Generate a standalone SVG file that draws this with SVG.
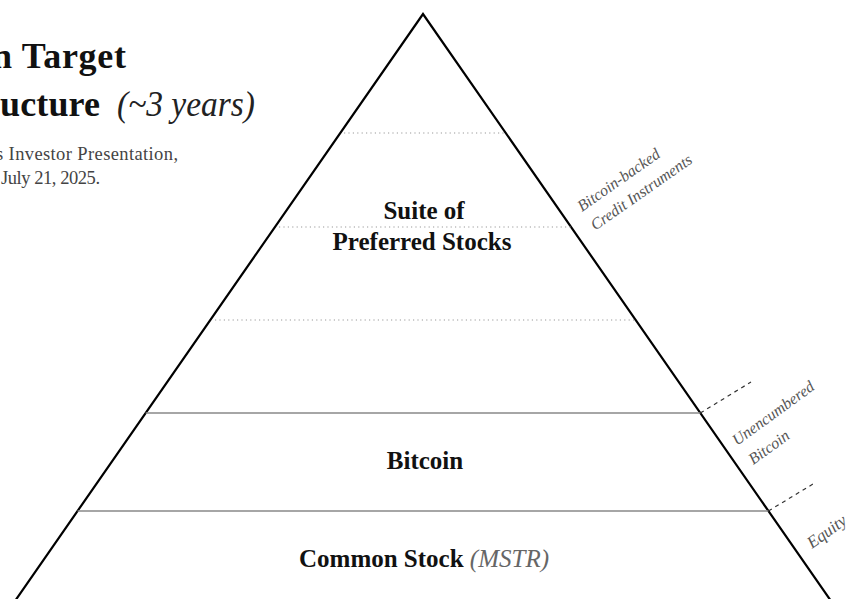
<svg xmlns="http://www.w3.org/2000/svg" width="853" height="599" viewBox="0 0 853 599">
  <style>
    text { font-family: "Liberation Serif", "Times New Roman", serif; }
    .title { font-size: 36px; font-weight: bold; fill: #111; }
    .title-it { font-size: 35px; font-style: italic; font-weight: normal; fill: #222; }
    .sub { font-size: 18.5px; fill: #444; }
    .tier { font-size: 25px; font-weight: bold; fill: #111; text-anchor: middle; }
    .tier-it { font-style: italic; font-weight: normal; fill: #666; }
    .side { font-size: 16px; font-style: italic; fill: #555; }
    .edge { fill: none; stroke: #000; stroke-width: 2.2; stroke-linejoin: miter; }
    .divider { stroke: #888; stroke-width: 1.5; }
    .subdivider { stroke: #999; stroke-width: 1.2; stroke-dasharray: 1.2 3.2; }
    .tick { stroke: #333; stroke-width: 1.2; stroke-dasharray: 4 4; }
  </style>

  <rect width="853" height="599" fill="#fff"/>

  <!-- heading, running off the left edge -->
  <g id="heading">
    <text class="title" x="-8" y="68" textLength="134" lengthAdjust="spacing">n Target</text>
    <text class="title" x="0" y="116" textLength="100" lengthAdjust="spacing">ucture</text>
    <text class="title-it" x="117" y="116" textLength="138" lengthAdjust="spacingAndGlyphs">(~3 years)</text>
    <text class="sub" x="-4" y="160" textLength="182" lengthAdjust="spacing">s Investor Presentation,</text>
    <text class="sub" x="1" y="184" textLength="99" lengthAdjust="spacing">July 21, 2025.</text>
  </g>

  <!-- pyramid outline -->
  <g id="pyramid">
    <polyline class="edge" points="14.3,602 423,14 831.7,602"/>
  </g>

  <!-- tier separators -->
  <g id="separators">
    <line class="subdivider" x1="344" y1="133" x2="506" y2="133"/>
    <line class="subdivider" x1="279" y1="227" x2="571" y2="227"/>
    <line class="subdivider" x1="215" y1="320" x2="635" y2="320"/>
    <line class="divider" x1="145.7" y1="413" x2="700.3" y2="413"/>
    <line class="divider" x1="77.6" y1="511" x2="768.4" y2="511"/>
  </g>

  <!-- tier labels -->
  <g id="tier-preferred">
    <text class="tier" x="424" y="219">Suite of</text>
    <text class="tier" x="422" y="250">Preferred Stocks</text>
  </g>
  <g id="tier-bitcoin">
    <text class="tier" x="425" y="469">Bitcoin</text>
  </g>
  <g id="tier-common">
    <text class="tier" x="424" y="567">Common Stock <tspan class="tier-it">(MSTR)</tspan></text>
  </g>

  <!-- side brackets -->
  <g id="connectors">
    <line class="tick" x1="700.3" y1="413" x2="751" y2="382"/>
    <line class="tick" x1="768.4" y1="511" x2="813" y2="484"/>
  </g>

  <!-- side annotations -->
  <g id="label-credit">
    <text class="side" transform="translate(582,212) rotate(-35)">
      <tspan x="0" y="0">Bitcoin-backed</tspan>
      <tspan x="0" y="23">Credit Instruments</tspan>
    </text>
  </g>
  <g id="label-unencumbered">
    <text class="side" transform="translate(737,446) rotate(-36)">
      <tspan x="0" y="0">Unencumbered</tspan>
      <tspan x="2" y="25">Bitcoin</tspan>
    </text>
  </g>
  <g id="label-equity">
    <text class="side" style="font-size:17px" transform="translate(812,549) rotate(-36)">Equity</text>
  </g>
</svg>
